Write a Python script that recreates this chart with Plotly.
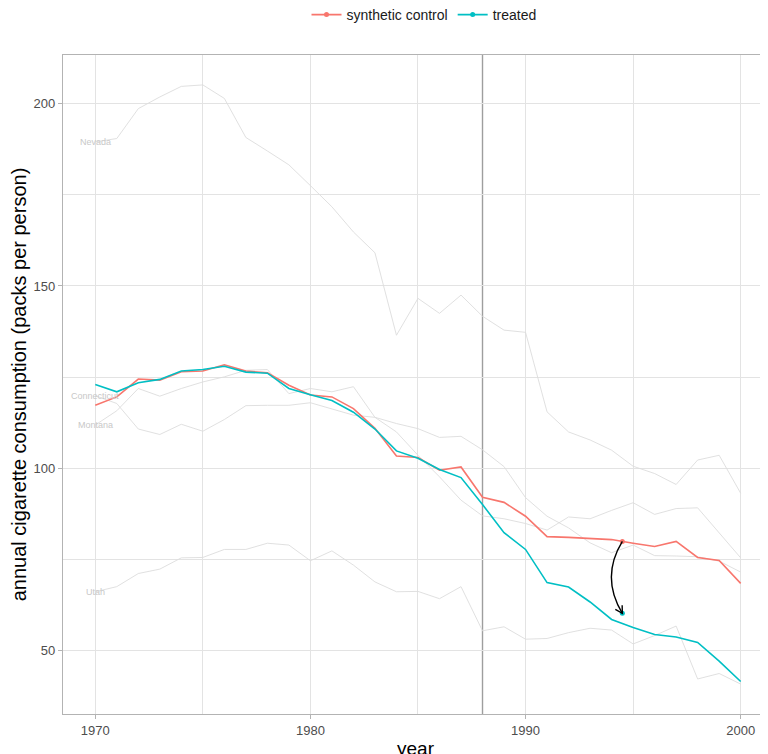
import math
import plotly.graph_objects as go

years = list(range(1970, 2001))

treated = [123.0, 121.0, 123.5, 124.4, 126.7, 127.1, 128.0, 126.4, 126.1, 121.9,
           120.2, 118.6, 115.4, 110.8, 104.8, 102.8, 99.7, 97.5, 90.1, 82.4,
           77.8, 68.7, 67.5, 63.4, 58.6, 56.4, 54.5, 53.8, 52.3, 47.2, 41.6]

synthetic = [117.3, 119.6, 124.5, 124.2, 126.5, 126.7, 128.4, 126.7, 126.2, 122.8,
             120.1, 119.6, 116.4, 111.0, 103.4, 103.0, 99.5, 100.4, 92.1, 90.7,
             86.9, 81.3, 81.1, 80.9, 80.5, 79.5, 78.6, 80.0, 75.6, 74.8, 68.5]

nevada = [189.5, 190.4, 198.6, 201.8, 204.7, 205.1, 201.4, 190.7, 187.0, 183.2,
          177.5, 171.7, 164.8, 159.1, 136.5, 146.6, 142.5, 147.5, 141.7, 137.9,
          137.3, 115.5, 110.0, 107.8, 105.0, 100.6, 98.6, 95.6, 102.3, 103.6, 93.2]

connecticut = [119.9, 117.8, 110.8, 109.3, 112.1, 110.2, 113.4, 117.2, 117.3, 117.3,
               118.0, 116.2, 114.6, 114.0, 112.3, 110.9, 108.5, 108.8, 105.1, 100.5,
               92.0, 86.9, 83.7, 79.6, 76.9, 79.0, 76.1, 76.0, 75.8, 74.6, 71.6]

montana = [111.9, 115.8, 121.9, 119.8, 121.9, 123.7, 125.1, 126.9, 127.1, 120.5,
           121.9, 121.0, 122.4, 114.0, 110.0, 103.6, 97.7, 91.3, 87.0, 86.2,
           84.9, 83.1, 86.7, 86.2, 88.5, 90.6, 87.4, 89.0, 89.2, 82.4, 75.5]

utah = [66.2, 67.6, 71.2, 72.4, 75.5, 75.6, 77.8, 77.8, 79.5, 79.0,
        74.7, 77.4, 73.5, 68.9, 66.2, 66.3, 64.3, 67.6, 55.5, 56.6,
        53.2, 53.4, 55.0, 56.2, 55.7, 51.9, 54.2, 56.8, 42.3, 43.8, 40.9]

donor_names = ["Nevada", "Connecticut", "Montana", "Utah"]
donor_values = [nevada, connecticut, montana, utah]

treatment_year = 1988
arrow_year = 1994.5
arrow_from = 80.0   # synthetic control
arrow_to = 60.3     # treated

x_ticks = [1970, 1980, 1990, 2000]
y_ticks = [50, 100, 150, 200]

RED = "#F8766D"
CYAN = "#00BFC4"
GRID = "#e3e3e3"
BORDER = "#b3b3b3"
FONT = "Liberation Sans, Arial, sans-serif"

# page body adds an 8px offset; compensate in size and margins
W, H = 760, 746
ML, MR, MT, MB = 55, 0, 47, 40
X_RANGE = [1968.5, 2001.27]
Y_RANGE = [32.7, 213.3]
PLOT_W = W - ML - MR
PLOT_H = H - MT - MB
px_per_x = PLOT_W / (X_RANGE[1] - X_RANGE[0])
px_per_y = PLOT_H / (Y_RANGE[1] - Y_RANGE[0])

fig = go.Figure()

for name, vals in zip(donor_names, donor_values):
    fig.add_trace(go.Scatter(x=years, y=vals, mode="lines", showlegend=False,
                             line=dict(color="#dcdcdc", width=0.9), hoverinfo="skip"))
    fig.add_annotation(x=years[0], y=vals[0], text=name, showarrow=False,
                       font=dict(size=9, color="#c8c8c8", family=FONT),
                       xanchor="center", yanchor="middle")

fig.add_trace(go.Scatter(x=years, y=synthetic, mode="lines", showlegend=False,
                         line=dict(color=RED, width=1.6)))
fig.add_trace(go.Scatter(x=years, y=treated, mode="lines", showlegend=False,
                         line=dict(color=CYAN, width=1.6)))

# points at the arrow ends (these also carry the legend)
fig.add_trace(go.Scatter(x=[arrow_year], y=[arrow_from], mode="lines+markers",
                         name="synthetic control",
                         line=dict(color=RED, width=1.6),
                         marker=dict(color=RED, size=5)))
fig.add_trace(go.Scatter(x=[arrow_year], y=[arrow_to], mode="lines+markers",
                         name="treated",
                         line=dict(color=CYAN, width=1.6),
                         marker=dict(color=CYAN, size=5)))

# treatment vertical line
fig.add_shape(type="line", xref="x", yref="paper", x0=treatment_year, x1=treatment_year,
              y0=0, y1=1, line=dict(color="#9e9e9e", width=1.4), layer="below")

# curved arrow between the two points (quadratic curve bulging left)
bulge_px = 22.0
ctrl_x = arrow_year - bulge_px / px_per_x
ctrl_y = (arrow_from + arrow_to) / 2
fig.add_shape(type="path", xref="x", yref="y",
              path=f"M {arrow_year},{arrow_from} Q {ctrl_x},{ctrl_y} {arrow_year},{arrow_to}",
              line=dict(color="black", width=1.4))

# open arrow head aligned with the curve's end tangent
tx = bulge_px
ty = (ctrl_y - arrow_to) * px_per_y
norm = math.hypot(tx, ty)
dx, dy = -tx / norm, -ty / norm
head_len = 8.0
arms = []
for ang in (math.radians(30), math.radians(-30)):
    rx = dx * math.cos(ang) - dy * math.sin(ang)
    ry = dx * math.sin(ang) + dy * math.cos(ang)
    arms.append((arrow_year + rx * head_len / px_per_x, arrow_to - ry * head_len / px_per_y))
fig.add_shape(type="path", xref="x", yref="y",
              path=f"M {arms[0][0]},{arms[0][1]} L {arrow_year},{arrow_to} L {arms[1][0]},{arms[1][1]}",
              line=dict(color="black", width=1.4))

# x-axis title placed as an annotation (partly cut at the bottom edge, like the reference)
fig.add_annotation(text="year", xref="paper", yref="paper", x=0.5, y=-34 / PLOT_H,
                   xanchor="center", yanchor="middle", showarrow=False,
                   font=dict(size=19, color="black", family=FONT))

fig.update_layout(
    width=W, height=H,
    template="none",
    paper_bgcolor="white", plot_bgcolor="white",
    margin=dict(l=ML, r=MR, t=MT, b=MB, pad=0, autoexpand=False),
    font=dict(family=FONT, color="#1a1a1a"),
    showlegend=True,
    legend=dict(orientation="h", x=(424 - 63) / PLOT_W, xanchor="center",
                y=1 + 40 / PLOT_H, yanchor="middle",
                font=dict(size=14, color="#1a1a1a", family=FONT),
                bgcolor="rgba(0,0,0,0)", itemwidth=30, traceorder="normal"),
)

fig.update_xaxes(
    range=X_RANGE, tickvals=x_ticks, ticktext=[str(v) for v in x_ticks],
    showgrid=True, gridcolor=GRID, gridwidth=1,
    minor=dict(dtick=5, tick0=1970, showgrid=True, gridcolor=GRID, gridwidth=1),
    showline=True, linecolor=BORDER, linewidth=1.2, mirror=True,
    ticks="outside", ticklen=4, tickcolor=BORDER, tickwidth=1,
    tickfont=dict(size=13, color="#4d4d4d", family=FONT),
    zeroline=False, automargin=False,
)
fig.update_yaxes(
    range=Y_RANGE, tickvals=y_ticks, ticktext=[str(v) for v in y_ticks],
    showgrid=True, gridcolor=GRID, gridwidth=1,
    minor=dict(dtick=25, tick0=0, showgrid=True, gridcolor=GRID, gridwidth=1),
    showline=True, linecolor=BORDER, linewidth=1.2, mirror=False,
    ticks="outside", ticklen=4, tickcolor=BORDER, tickwidth=1,
    tickfont=dict(size=13, color="#4d4d4d", family=FONT),
    zeroline=False, automargin=False,
    title=dict(text="annual cigarette consumption (packs per person)",
               font=dict(size=20, color="black", family=FONT), standoff=2),
)

fig.write_html("out.html")
